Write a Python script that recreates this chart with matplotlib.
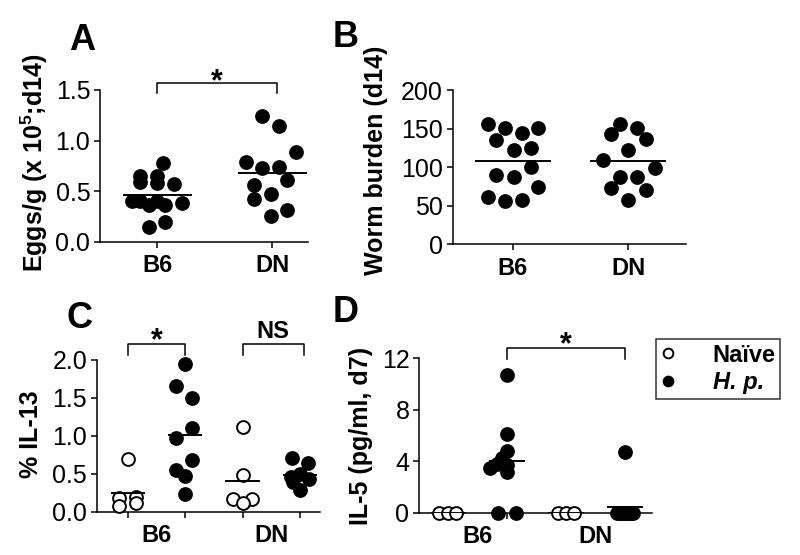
import matplotlib
matplotlib.use('Agg')
import matplotlib.pyplot as plt
from matplotlib.lines import Line2D
import numpy as np

plt.rcParams['font.family'] = ['Liberation Sans', 'DejaVu Sans']
plt.rcParams['mathtext.default'] = 'regular'

# ---- data ----
groups = ['B6', 'DN']

# A: eggs/g (x 10^5, d14)
a_b6 = [0.78, 0.65, 0.65, 0.59, 0.58, 0.57, 0.40, 0.40, 0.36, 0.40, 0.36, 0.38, 0.15, 0.20]
a_dn = [1.24, 1.14, 0.89, 0.79, 0.73, 0.74, 0.61, 0.56, 0.47, 0.42, 0.32, 0.26]

# B: worm burden (d14)
b_b6 = [156, 151, 145, 151, 136, 123, 125, 100, 90, 87, 74, 61, 56, 58]
b_dn = [156, 151, 144, 137, 123, 110, 99, 88, 88, 73, 70, 58]

# C: % IL-13
c_b6_naive = [0.70, 0.18, 0.20, 0.08, 0.12]
c_b6_hp = [1.95, 1.66, 1.50, 1.11, 0.97, 0.68, 0.55, 0.47, 0.24]
c_dn_naive = [1.12, 0.49, 0.17, 0.17, 0.12]
c_dn_hp = [0.71, 0.64, 0.50, 0.46, 0.44, 0.39, 0.29]

# D: IL-5 (pg/ml, d7)
d_b6_naive = [0, 0, 0]
d_b6_hp = [10.7, 6.15, 4.8, 4.3, 3.8, 3.5, 3.7, 3.2, 0, 0]
d_dn_naive = [0, 0, 0]
d_dn_hp = [4.75, 0, 0, 0, 0, 0, 0, 0, 0, 0]

# horizontal scatter of the dots (layout only)
a_b6_dx = [0.05, -0.15, 0, -0.15, 0, 0.15, -0.22, -0.15, -0.07, 0, 0.07, 0.22, -0.07, 0.07]
a_dn_dx = [-0.09, 0.06, 0.21, -0.23, -0.09, 0.06, 0.13, -0.16, -0.01, -0.16, 0.13, -0.01]
b_b6_dx = [-0.22, -0.07, 0.08, 0.22, -0.15, 0.01, 0.16, 0.16, -0.15, 0.01, 0.22, -0.22, -0.07, 0.08]
b_dn_dx = [-0.07, 0.08, -0.15, 0.16, 0, -0.22, 0.23, -0.07, 0.08, -0.15, 0.16, 0]
c_b6_naive_dx = [0, -0.16, 0.14, -0.16, 0.14]
c_b6_hp_dx = [0, -0.16, 0.12, 0.12, -0.16, 0.12, -0.16, 0, 0]
c_dn_naive_dx = [0, 0, -0.17, 0.16, 0]
c_dn_hp_dx = [-0.14, 0.14, 0.0, -0.15, 0.15, -0.12, 0.0]
d_b6_naive_dx = [-0.15, 0, 0.14]
d_b6_hp_dx = [0, 0, 0, -0.08, -0.17, -0.29, 0, 0, -0.15, 0.15]
d_dn_naive_dx = [-0.14, 0, 0.14]
d_dn_hp_dx = [0, -0.14, -0.1, -0.07, -0.03, 0, 0.03, 0.07, 0.1, 0.14]

LW = 1.1
FS = 18      # tick labels
XFS = 17     # group labels
LFS = 18     # axis labels


def style(ax):
    for s in ['top', 'right']:
        ax.spines[s].set_visible(False)
    for s in ['left', 'bottom']:
        ax.spines[s].set_linewidth(LW)
    ax.tick_params(direction='out', length=4, width=LW, labelsize=FS, pad=3)


def dots(ax, pos, vals, dx, filled=True, half=0.3):
    x = pos + np.array(dx)
    ax.scatter(x, vals, s=85, c='black' if filled else 'white',
               edgecolors='black', linewidths=1.4, zorder=3, clip_on=False)
    ax.hlines(np.mean(vals), pos - half, pos + half, color='black', lw=1.4, zorder=4)


def bracket(ax, x1, x2, y_top, y_bot, txt, y_txt, fs=22):
    ax.plot([x1, x1, x2, x2], [y_bot, y_top, y_top, y_bot], color='black',
            lw=LW, clip_on=False)
    ax.text((x1 + x2) / 2, y_txt, txt, ha='center', va='baseline',
            fontsize=fs, fontweight='bold', clip_on=False)


def group_ticks(ax):
    ax.set_xticks([1, 2, 3, 4])
    ax.set_xticklabels([])
    ax.set_xticks([1.5, 3.5], minor=True)
    ax.set_xticklabels(groups, minor=True, fontweight='bold')
    ax.tick_params(axis='x', which='minor', length=0, pad=9, labelsize=XFS)


fig = plt.figure(figsize=(8, 5.55), dpi=100)

# ---- A ----
axA = fig.add_axes([0.125, 0.564, 0.26, 0.274])
style(axA)
dots(axA, 1, a_b6, a_b6_dx)
dots(axA, 2, a_dn, a_dn_dx)
axA.set_xlim(0.504, 2.31)
axA.set_ylim(0, 1.5)
axA.set_yticks([0, 0.5, 1.0, 1.5])
axA.set_yticklabels(['0.0', '0.5', '1.0', '1.5'])
axA.set_xticks([1, 2])
axA.set_xticklabels(groups, fontweight='bold')
axA.tick_params(axis='x', pad=5, labelsize=XFS)
axA.set_ylabel('Eggs/g (x 10$^{5}$;d14)', fontsize=LFS, fontweight='bold')
axA.yaxis.set_label_coords(-0.24, 0.52)
bracket(axA, 1, 2.04, 1.57, 1.47, '*', 1.50)

# ---- B ----
axB = fig.add_axes([0.566, 0.560, 0.291, 0.277])
style(axB)
dots(axB, 1, b_b6, b_b6_dx, half=0.33)
dots(axB, 2, b_dn, b_dn_dx, half=0.33)
axB.set_xlim(0.478, 2.50)
axB.set_ylim(0, 200)
axB.set_yticks([0, 50, 100, 150, 200])
axB.set_xticks([1, 2])
axB.set_xticklabels(groups, fontweight='bold')
axB.tick_params(axis='x', pad=5, labelsize=XFS)
axB.set_ylabel('Worm burden (d14)', fontsize=LFS, fontweight='bold')
axB.yaxis.set_label_coords(-0.28, 0.545)

# ---- C ----
axC = fig.add_axes([0.121, 0.0775, 0.279, 0.274])
style(axC)
dots(axC, 1, c_b6_naive, c_b6_naive_dx, filled=False)
dots(axC, 2, c_b6_hp, c_b6_hp_dx)
dots(axC, 3, c_dn_naive, c_dn_naive_dx, filled=False)
dots(axC, 4, c_dn_hp, c_dn_hp_dx)
axC.set_xlim(0.459, 4.35)
axC.set_ylim(0, 2.0)
axC.set_yticks([0, 0.5, 1.0, 1.5, 2.0])
axC.set_yticklabels(['0.0', '0.5', '1.0', '1.5', '2.0'])
group_ticks(axC)
axC.set_ylabel('% IL-13', fontsize=LFS, fontweight='bold')
axC.yaxis.set_label_coords(-0.24, 0.51)
bracket(axC, 1, 2, 2.21, 2.07, '*', 2.14)
bracket(axC, 3, 4.07, 2.21, 2.07, 'NS', 2.29, fs=XFS)

# ---- D ----
axD = fig.add_axes([0.524, 0.0757, 0.291, 0.279])
style(axD)
dots(axD, 1, d_b6_naive, d_b6_naive_dx, filled=False)
dots(axD, 2, d_b6_hp, d_b6_hp_dx)
dots(axD, 3, d_dn_naive, d_dn_naive_dx, filled=False)
dots(axD, 4, d_dn_hp, d_dn_hp_dx)
axD.set_xlim(0.508, 4.46)
axD.set_ylim(0, 12)
axD.set_yticks([0, 4, 8, 12])
group_ticks(axD)
axD.set_ylabel('IL-5 (pg/ml, d7)', fontsize=LFS, fontweight='bold')
axD.yaxis.set_label_coords(-0.20, 0.50)
bracket(axD, 2, 4, 12.8, 11.9, '*', 12.4)

# ---- panel letters ----
for letter, x, y in [('A', 82, 50), ('B', 346, 47), ('C', 80, 328), ('D', 346, 322)]:
    fig.text(x / 800, 1 - y / 555, letter, ha='center', va='baseline',
             fontsize=26, fontweight='bold')

# ---- legend ----
handles = [Line2D([], [], ls='none', marker='o', ms=7, mfc='white', mec='black', mew=1.4),
           Line2D([], [], ls='none', marker='o', ms=7, mfc='black', mec='black', mew=1.4)]
leg = fig.legend(handles, ['Naïve', 'H. p.'], loc='upper left',
                 bbox_to_anchor=(656 / 800, 1 - 339 / 555), borderaxespad=0,
                 prop={'size': 17, 'weight': 'bold'}, frameon=True, fancybox=False,
                 edgecolor='black', borderpad=0.2, handlelength=0.6,
                 handletextpad=1.6, labelspacing=0.2)
leg.get_frame().set_linewidth(LW)
leg.get_texts()[1].set_fontstyle('italic')

fig.savefig('out.png', dpi=100)
